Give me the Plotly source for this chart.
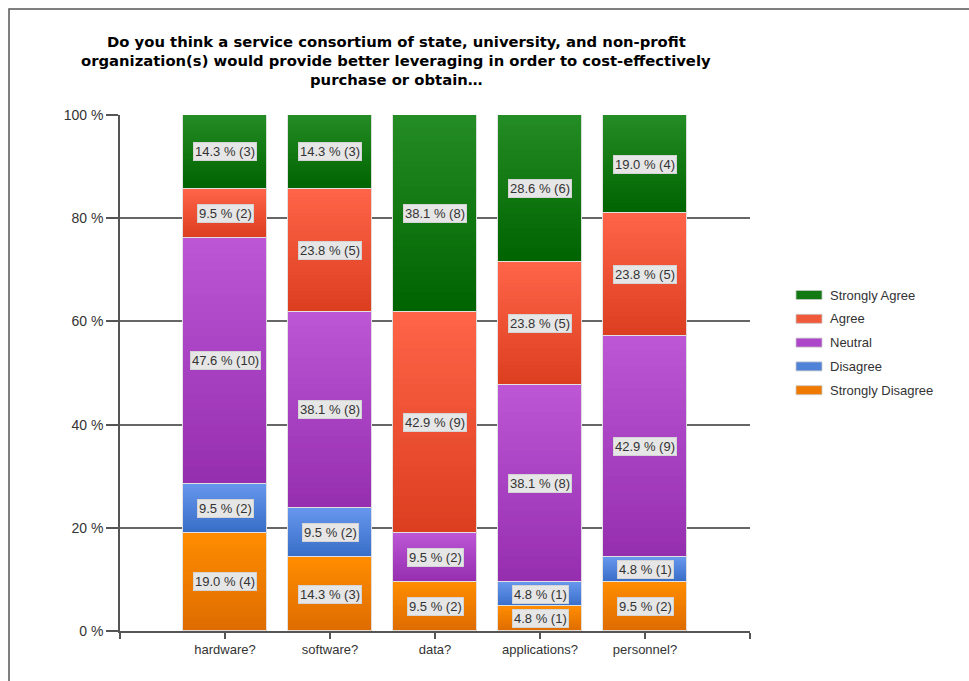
import plotly.graph_objects as go

# Survey responses (counts) per resource category
categories = ["hardware?", "software?", "data?", "applications?", "personnel?"]
strongly_disagree = [4, 3, 2, 1, 2]
disagree = [2, 2, 0, 1, 1]
neutral = [10, 8, 2, 8, 9]
agree = [2, 5, 9, 5, 5]
strongly_agree = [3, 3, 8, 6, 4]

# Stack order, bottom to top
series_names = ["Strongly Disagree", "Disagree", "Neutral", "Agree", "Strongly Agree"]
series_counts = [strongly_disagree, disagree, neutral, agree, strongly_agree]

y_ticks = [0, 20, 40, 60, 80, 100]
y_tick_labels = ["%d %%" % v for v in y_ticks]

title_lines = [
    "Do you think a service consortium of state, university, and non-profit",
    "organization(s) would provide better leveraging in order to cost-effectively",
    "purchase or obtain…",
]

# Gradient end colours (top, bottom) for each series
grad = {
    "Strongly Disagree": ((255, 140, 0), (222, 108, 0)),
    "Disagree": ((102, 150, 236), (56, 110, 200)),
    "Neutral": ((188, 86, 212), (150, 46, 176)),
    "Agree": ((255, 100, 72), (220, 62, 32)),
    "Strongly Agree": ((36, 140, 36), (0, 100, 0)),
}
legend_colors = {
    "Strongly Agree": "#137a13",
    "Agree": "#f05a3a",
    "Neutral": "#ad46c8",
    "Disagree": "#5082d8",
    "Strongly Disagree": "#f07a00",
}

FONT = "Liberation Sans, Arial, sans-serif"
TITLE_FONT = "DejaVu Sans, Verdana, sans-serif"
TXT = "#333333"
BAR_W = 0.8
N_SLICES = 30

totals = [sum(c[i] for c in series_counts) for i in range(len(categories))]
xs = list(range(len(categories)))


def mix(c1, c2, t):
    return "rgb(%d,%d,%d)" % tuple(round(a + (b - a) * t) for a, b in zip(c1, c2))


fig = go.Figure()
annotations = []

cum = [0.0] * len(categories)
seg_bounds = []  # (series, i, lo, hi, count)
for name, counts in zip(series_names, series_counts):
    for i in xs:
        pct = counts[i] / totals[i] * 100
        seg_bounds.append((name, i, cum[i], cum[i] + pct, counts[i]))
        cum[i] += pct

# Gradient fill: each slice runs from its own base up to the segment top,
# later (higher) slices paint over earlier ones so no seams appear.
for name in series_names:
    top_c, bot_c = grad[name]
    sx, sbase, sy, scol = [], [], [], []
    for (nm, i, lo, hi, cnt) in seg_bounds:
        if nm != name or hi - lo <= 0:
            continue
        for k in range(N_SLICES):
            b = lo + (hi - lo) * k / N_SLICES
            sx.append(i)
            sbase.append(b)
            sy.append(hi - b)
            scol.append(mix(bot_c, top_c, k / (N_SLICES - 1)))
    fig.add_trace(go.Bar(
        x=sx, y=sy, base=sbase, width=BAR_W,
        marker=dict(color=scol, line=dict(width=0)),
        showlegend=False, hoverinfo="skip", name=name,
    ))

# Segment outlines
for name, counts in zip(series_names, series_counts):
    lo_list = [lo for (nm, i, lo, hi, c) in seg_bounds if nm == name]
    h_list = [hi - lo for (nm, i, lo, hi, c) in seg_bounds if nm == name]
    fig.add_trace(go.Bar(
        x=xs, y=h_list, base=lo_list, width=BAR_W,
        marker=dict(color="rgba(0,0,0,0)", line=dict(color="rgba(225,225,225,0.95)", width=1)),
        showlegend=False, hoverinfo="skip", name=name,
    ))

# Value labels
for (nm, i, lo, hi, cnt) in seg_bounds:
    if cnt == 0:
        continue
    pct = cnt / totals[i] * 100
    annotations.append(dict(
        x=i, y=(lo + hi) / 2, xref="x", yref="y",
        text="%.1f %% (%d)" % (pct, cnt), showarrow=False,
        font=dict(family=FONT, size=13, color=TXT),
        bgcolor="#e6e6e6", bordercolor="#d4d4d4", borderwidth=1, borderpad=1,
    ))

# Pixel-to-paper helpers for the plot area (x 120..750, y 115..631)
L, R, T, B = 120, 750, 115, 631


def px(x):
    return (x - L) / (R - L)


def py(y):
    return (B - y) / (B - T)


# Title
for k, line in enumerate(title_lines):
    annotations.append(dict(
        x=px(396), y=py(42 + 18.5 * k), xref="paper", yref="paper",
        text="<b>%s</b>" % line, showarrow=False, xanchor="center", yanchor="middle",
        font=dict(family=TITLE_FONT, size=14.8, color="#000000"),
    ))

# Legend
shapes = []
legend_order = ["Strongly Agree", "Agree", "Neutral", "Disagree", "Strongly Disagree"]
for k, name in enumerate(legend_order):
    yc = 295 + 23.8 * k
    shapes.append(dict(
        type="rect", xref="paper", yref="paper",
        x0=px(796), x1=px(822), y0=py(yc - 4.5), y1=py(yc + 4.5),
        fillcolor=legend_colors[name], line=dict(color="rgba(200,200,200,0.8)", width=1),
    ))
    annotations.append(dict(
        x=px(828), y=py(yc), xref="paper", yref="paper", text=name,
        showarrow=False, xanchor="left", yanchor="middle",
        font=dict(family=FONT, size=13, color=TXT),
    ))

# Outer frame
shapes.append(dict(
    type="rect", xref="paper", yref="paper",
    x0=px(9), x1=px(1010), y0=py(720), y1=py(9),
    line=dict(color="#555555", width=1.5), fillcolor="rgba(0,0,0,0)", layer="below",
))

fig.update_layout(
    width=969, height=681, autosize=False,
    margin=dict(l=L, r=969 - R, t=T, b=681 - B, pad=0),
    paper_bgcolor="white", plot_bgcolor="white",
    barmode="overlay", bargap=0,
    showlegend=False,
    font=dict(family=FONT, size=13, color=TXT),
    annotations=annotations, shapes=shapes,
    xaxis=dict(
        range=[-1, len(categories)], tickmode="array",
        tickvals=[-1] + xs + [len(categories)],
        ticktext=[""] + categories + [""],
        ticks="outside", ticklen=6, tickwidth=1.5, tickcolor="#555555",
        showline=True, linecolor="#555555", linewidth=1.5,
        showgrid=False, zeroline=False, fixedrange=True,
        tickfont=dict(family=FONT, size=13, color=TXT),
    ),
    yaxis=dict(
        range=[0, 100], tickmode="array", tickvals=y_ticks, ticktext=y_tick_labels,
        ticks="outside", ticklen=12, tickwidth=1.5, tickcolor="#555555",
        showline=True, linecolor="#555555", linewidth=1.5,
        showgrid=True, gridcolor="#666666", gridwidth=1.5, zeroline=False,
        tickfont=dict(family=FONT, size=14, color=TXT), fixedrange=True,
    ),
)

fig.write_html("out.html")
